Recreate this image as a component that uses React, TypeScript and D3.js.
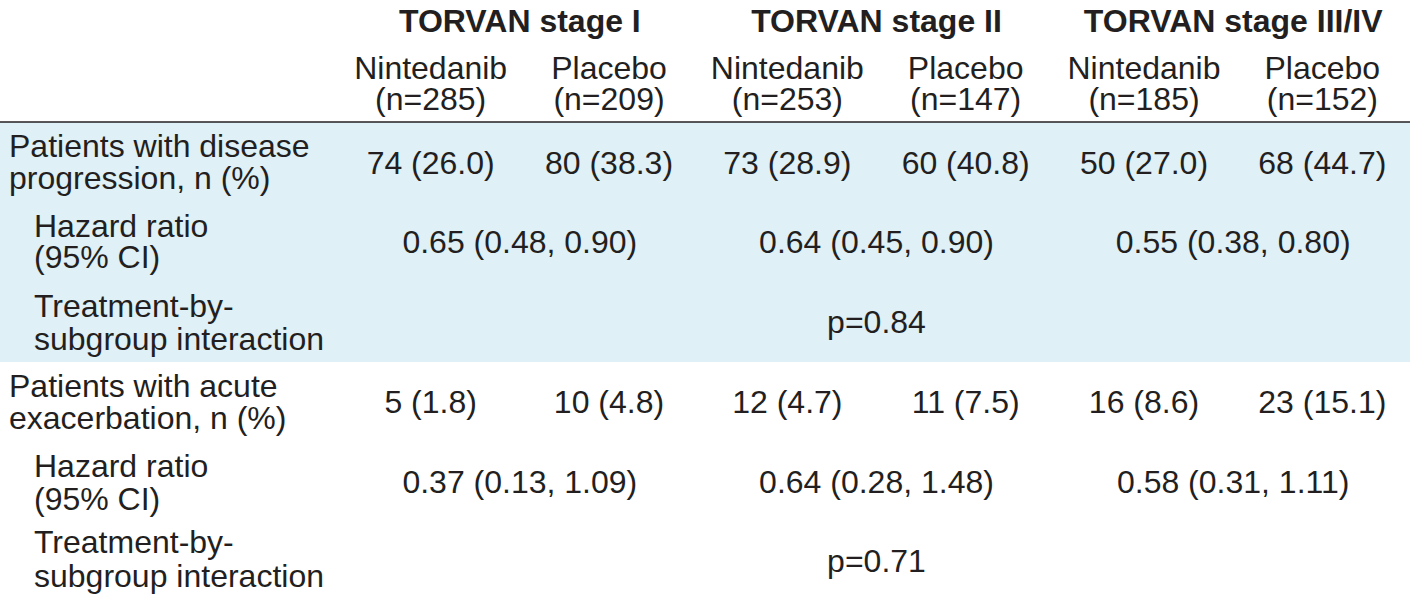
import React from "react";
import * as d3 from "d3";

const groups = ["TORVAN stage I", "TORVAN stage II", "TORVAN stage III/IV"];
const arms = ["Nintedanib", "Placebo"];
const nValues = [285, 209, 253, 147, 185, 152];
const progressionValues = ["74 (26.0)", "80 (38.3)", "73 (28.9)", "60 (40.8)", "50 (27.0)", "68 (44.7)"];
const progressionHR = ["0.65 (0.48, 0.90)", "0.64 (0.45, 0.90)", "0.55 (0.38, 0.80)"];
const progressionP = "p=0.84";
const exacerbationValues = ["5 (1.8)", "10 (4.8)", "12 (4.7)", "11 (7.5)", "16 (8.6)", "23 (15.1)"];
const exacerbationHR = ["0.37 (0.13, 1.09)", "0.64 (0.28, 1.48)", "0.58 (0.31, 1.11)"];
const exacerbationP = "p=0.71";

const W = 1410;
const H = 599;
const FONT = "'Liberation Sans', Arial, Helvetica, sans-serif";
const TEXT = "#231f20";
const BLUE = "#dff0f7";

export default function App() {
  const gx = d3.scaleBand<string>().domain(groups).range([341.5, 1411.5]);
  const ax = d3.scaleBand<string>().domain(arms).range([0, gx.bandwidth()]);
  const gc = (g: string) => (gx(g) as number) + gx.bandwidth() / 2;
  const cc = (i: number) => {
    const g = groups[Math.floor(i / 2)];
    const a = arms[i % 2];
    return (gx(g) as number) + (ax(a) as number) + ax.bandwidth() / 2;
  };
  const fs = 32;
  const label = (lines: string[], x: number, ys: number[]) =>
    lines.map((l, i) => (
      <text key={l} x={x} y={ys[i]} fontSize={fs} fill={TEXT}>
        {l}
      </text>
    ));
  const cellRow = (vals: string[], y: number) =>
    vals.map((v, i) => (
      <text key={"c" + i} x={cc(i)} y={y} fontSize={fs} fill={TEXT} textAnchor="middle">
        {v}
      </text>
    ));
  const groupRow = (vals: string[], y: number) =>
    vals.map((v, i) => (
      <text key={"g" + i} x={gc(groups[i])} y={y} fontSize={fs} fill={TEXT} textAnchor="middle">
        {v}
      </text>
    ));
  const pText = (v: string, y: number) => (
    <text x={gc(groups[1])} y={y} fontSize={fs} fill={TEXT} textAnchor="middle">
      {v}
    </text>
  );

  return (
    <svg
      width={W}
      height={H}
      style={{ position: "absolute", left: 0, top: 0, background: "#fff" }}
      fontFamily={FONT}
    >
      <rect x={0} y={0} width={W} height={H} fill="#fff" />
      <rect x={0} y={122} width={W} height={240} fill={BLUE} />
      <line x1={0} x2={W} y1={122} y2={122} stroke={TEXT} strokeWidth={1.5} />
      {groups.map((g) => (
        <text key={g} x={gc(g)} y={32} fontSize={32} fontWeight="bold" fill={TEXT} textAnchor="middle">
          {g}
        </text>
      ))}
      {nValues.map((n, i) => (
        <g key={"h" + i}>
          <text x={cc(i)} y={79} fontSize={fs} fill={TEXT} textAnchor="middle">
            {arms[i % 2]}
          </text>
          <text x={cc(i)} y={110} fontSize={fs} fill={TEXT} textAnchor="middle">
            {`(n=${n})`}
          </text>
        </g>
      ))}
      {label(["Patients with disease", "progression, n (%)"], 9, [157, 189])}
      {cellRow(progressionValues, 174)}
      {label(["Hazard ratio", "(95% CI)"], 34, [237, 268])}
      {groupRow(progressionHR, 253)}
      {label(["Treatment-by-", "subgroup interaction"], 34, [317, 350])}
      {pText(progressionP, 333)}
      {label(["Patients with acute", "exacerbation, n (%)"], 9, [397, 429])}
      {cellRow(exacerbationValues, 413)}
      {label(["Hazard ratio", "(95% CI)"], 34, [477, 510])}
      {groupRow(exacerbationHR, 493)}
      {label(["Treatment-by-", "subgroup interaction"], 34, [553, 587])}
      {pText(exacerbationP, 572)}
    </svg>
  );
}
